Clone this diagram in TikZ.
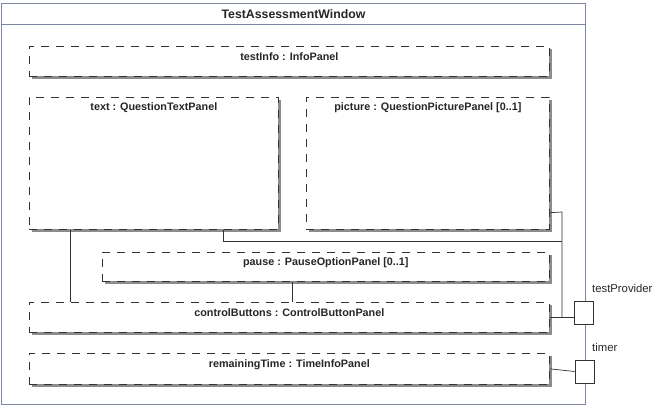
\documentclass[tikz,border=0pt]{standalone}
\usepackage{fontspec}
\setmainfont{Liberation Sans}
\usetikzlibrary{shadows}
\definecolor{winborder}{RGB}{125,135,165}
\definecolor{linec}{RGB}{50,50,50}
\begin{document}
\begin{tikzpicture}[x=1pt,y=-1pt,
  part/.style={draw=linec, line width=0.7pt, dash pattern=on 8pt off 7pt, fill=white,
    anchor=north west, inner sep=0pt,
    drop shadow={shadow xshift=2.2pt, shadow yshift=-2.2pt, fill=black!45, opacity=1}},
  lbl/.style={font=\bfseries\fontsize{10.8}{12}\selectfont, text=black!85, inner sep=0pt},
  port/.style={draw=linec, line width=0.7pt, fill=white, minimum width=19pt, minimum height=23pt, inner sep=0pt},
  plbl/.style={font=\fontsize{11.3}{13}\selectfont, text=black!85, anchor=west, inner sep=0pt},
  conn/.style={draw=linec, line width=0.7pt}]
\useasboundingbox (0,0) rectangle (655,406);
% window
\node[draw=winborder, line width=1pt, fill=white, anchor=north west, minimum width=584pt, minimum height=401pt, inner sep=0pt] (win) at (1,3) {};
\draw[winborder, line width=1pt] ([yshift=-22pt]win.north west) -- ([yshift=-22pt]win.north east);
\node[lbl, font=\bfseries\fontsize{12.3}{14}\selectfont] (title) at ([yshift=-11pt]win.north) {TestAssessmentWindow};
% parts
\node[part, minimum width=520pt, minimum height=30pt] (info) at (29,46) {};
\node[lbl] (infol) at ([yshift=-11pt]info.north) {testInfo : InfoPanel};
\node[part, minimum width=249pt, minimum height=132pt] (txt) at (29,97) {};
\node[lbl] (txtl) at ([yshift=-11pt]txt.north) {text : QuestionTextPanel};
\node[part, minimum width=243pt, minimum height=132pt] (pic) at (306,97) {};
\node[lbl] (picl) at ([yshift=-11pt]pic.north) {picture : QuestionPicturePanel [0..1]};
\node[part, minimum width=447pt, minimum height=29pt] (pause) at (102,252) {};
\node[lbl] (pausel) at ([yshift=-11pt]pause.north) {pause : PauseOptionPanel [0..1]};
\node[part, minimum width=520pt, minimum height=30pt] (cb) at (29,302) {};
\node[lbl] (cbl) at ([yshift=-11pt]cb.north) {controlButtons : ControlButtonPanel};
\node[part, minimum width=520pt, minimum height=31pt] (rt) at (29,353) {};
\node[lbl] (rtl) at ([yshift=-12pt]rt.north) {remainingTime : TimeInfoPanel};
% ports
\node[port] (tp) at (584,312.5) {};
\node[plbl] (tpl) at (592,288) {testProvider};
\node[port] (tm) at (584.5,371.5) {};
\node[plbl] (tml) at (592,347) {timer};
% connectors
\coordinate (bendA) at (562,212);
\coordinate (bendB) at (562,241);
\draw[conn] ([yshift=17pt]pic.south east) -- (bendA) -- (bendA |- cb.east) -- (tp.west |- cb.east);
\draw[conn] (cb.east) -- (tp.west |- cb.east);
\draw[conn] ([xshift=194pt]txt.south west) |- (bendB);
\draw[conn] ([xshift=41pt]txt.south west) -- ([xshift=41pt]txt.south west |- cb.north);
\draw[conn] ([xshift=190pt]pause.south west) -- ([xshift=190pt]pause.south west |- cb.north);
\draw[conn] (rt.east) -- (tm.west);
\end{tikzpicture}
\end{document}
